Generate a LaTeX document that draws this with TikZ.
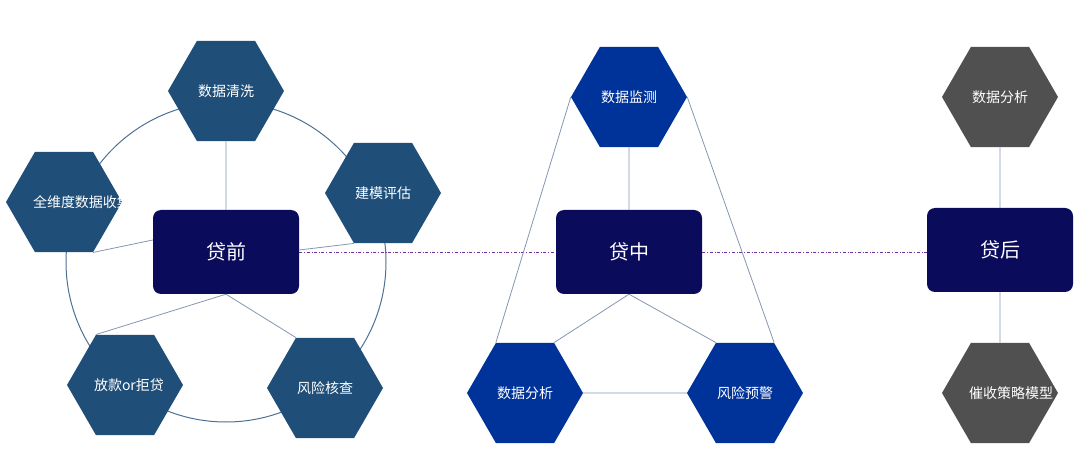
\documentclass[tikz,border=0pt]{standalone}
\usepackage{fontspec}
\setmainfont{Noto Sans CJK SC}
\usetikzlibrary{shapes.geometric,positioning}
\definecolor{preblue}{HTML}{1F4E79}
\definecolor{midblue}{HTML}{00339A}
\definecolor{postgrey}{HTML}{505050}
\definecolor{stagenavy}{HTML}{0B0B5C}
\definecolor{linkcol}{HTML}{8497B0}
\definecolor{dashcol}{HTML}{7030A0}
\tikzset{
  hexa/.style={regular polygon,regular polygon sides=6,minimum size=116pt,inner sep=0pt,
    text width=62pt,align=center,text=white,font=\fontsize{14}{17}\selectfont},
  stage/.style={rectangle,rounded corners=8pt,fill=stagenavy,minimum width=146pt,
    minimum height=84pt,text=white,font=\fontsize{20}{24}\selectfont},
  link/.style={draw=linkcol,line width=0.8pt},
}
\begin{document}
\begin{tikzpicture}[x=1pt,y=-1pt]
\useasboundingbox (0,0) rectangle (1080,465);

% loan-before circle
\draw [draw=preblue!80,line width=1pt] (226,262) circle (160);

% stages
\node [stage] (pre) at (226,252) {贷前};
\node [stage] (mid) at (629,252) {贷中};
\node [stage] (post) at (1000,250) {贷后};

% stage links
\draw [dashcol,dash dot,line width=0.9pt] (pre.east) -- (mid.west);
\draw [dashcol,dash dot,line width=0.9pt] (mid.east) -- (post.west |- mid.east);

% pre hexagons
\node [hexa,fill=preblue] (clean) at (226,91) {数据清洗};
\node [hexa,fill=preblue] (collect) at (64,202) {全维度数据收集};
\node [hexa,fill=preblue] (model) at (383,193) {建模评估};
\node [hexa,fill=preblue] (lend) at (125,385) {放款or拒贷};
\node [hexa,fill=preblue] (check) at (325,388) {风险核查};

% mid hexagons
\node [hexa,fill=midblue] (watch) at (629,97) {数据监测};
\node [hexa,fill=midblue] (midana) at (525,393) {数据分析};
\node [hexa,fill=midblue] (warn) at (745,393) {风险预警};

% post hexagons
\node [hexa,fill=postgrey] (postana) at (1000,97) {数据分析};
\node [hexa,fill=postgrey] (collectmodel) at (1000,393) {催收策略模型};

\begin{scope}[on background layer/.style={}]
\end{scope}

% pre links
\draw [link] (clean.south) -- (pre.north);
\draw [link] (collect.corner 5) -- (pre.north west |- 0,240);
\draw [link] (pre.north east |- 0,250) -- (model.corner 4);
\draw [link] (pre.south) -- (lend.corner 2);
\draw [link] (pre.south) -- (check.corner 2);

% mid links
\draw [link] (watch.south) -- (mid.north);
\draw [link] (mid.south) -- (midana.corner 1);
\draw [link] (mid.south) -- (warn.corner 2);
\draw [link] (midana.east) -- (warn.west);
\draw [link] (watch.west) -- (midana.corner 2);
\draw [link] (watch.east) -- (warn.corner 1);

% post links
\draw [link] (postana.south) -- (post.north);
\draw [link] (post.south) -- (collectmodel.north);
\end{tikzpicture}
\end{document}
